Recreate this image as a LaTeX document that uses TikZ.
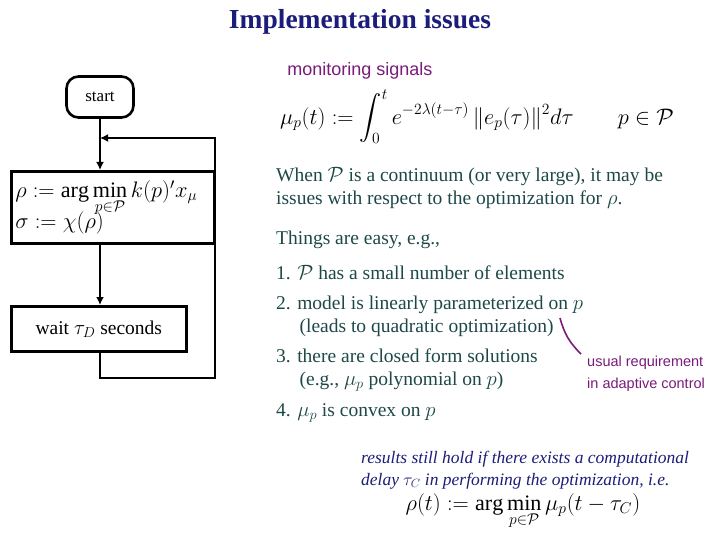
\documentclass[tikz,border=0pt]{standalone}
\usepackage{amsmath}
\usepackage{amssymb}
\usepackage{graphicx}
\usepackage{fontspec}
\setmainfont{Liberation Serif}
\newfontfamily\sansf{Liberation Sans}
\usetikzlibrary{arrows.meta}
\definecolor{titleblue}{HTML}{1C1C7A}
\definecolor{bodyteal}{HTML}{1E4848}
\definecolor{notepurple}{HTML}{7A1A7A}
\tikzset{
  box/.style={draw, line width=2.6pt, inner sep=4pt},
  flow/.style={line width=2.6pt, -{Latex[length=8pt,width=8pt]}},
  txt/.style={anchor=west, inner sep=0pt, text=bodyteal, font=\fontsize{19.5}{23}\selectfont},
}
\begin{document}
\begin{tikzpicture}[x=1pt,y=-1pt, font=\fontsize{17}{20}\selectfont]
    \useasboundingbox (0,0) rectangle (720,540);
    \node[text=titleblue, font=\bfseries\fontsize{27.5}{30}\selectfont] (title) at (360,22) {Implementation issues};
    \node[text=notepurple, font=\sansf\fontsize{18}{20}\selectfont] (mon) at (360,71) {monitoring signals};
    \node (mu) at (477,117) {\scalebox{1.3}{$\displaystyle \mu_p(t) := \int_0^t e^{-2\lambda(t-\tau)}\,\|e_p(\tau)\|^2 d\tau \qquad p\in\mathcal{P}$}};

    % flowchart
    \node[box, rounded corners=12pt, minimum width=67pt, minimum height=41pt] (start) at (100,97) {start};
    \node[box, anchor=north west, text width=195pt, minimum height=72pt, align=left] (opt) at (10,170)
        {\scalebox{1.3}{$\rho := \arg\min\limits_{p\in\mathcal{P}} k(p)' x_\mu$}\\[-6pt] \scalebox{1.3}{$\sigma := \chi(\rho)$}};
    \node[box, anchor=north west, minimum width=175pt, minimum height=45pt, font=\fontsize{19.5}{22}\selectfont] (wait) at (10,305) {wait $\tau_D$ seconds};
    \coordinate (loopa) at (100,378);
    \coordinate (loopb) at (215,378);
    \coordinate (loopc) at (215,138);
    \coordinate (loopd) at (100,138);
    \draw[flow] (start.south) -- (start.south |- opt.north);
    \draw[flow] (opt.south -| loopa) -- (wait.north -| loopa);
    \draw[flow] (wait.south -| loopa) -- (loopa) -- (loopb) -- (loopc) -- (loopd);

    % text
    \node[txt, align=left] (when) at (276,188) {When $\mathcal{P}$ is a continuum (or very large), it may be\\issues with respect to the optimization for $\rho$.};
    \node[txt] (easy) at (276,240) {Things are easy, e.g.,};
    \node[txt] (i1) at (276,273) {1. $\mathcal{P}$ has a small number of elements};
    \node[txt, align=left] (i2) at (276,316) {2. model is linearly parameterized on $p$\\\hspace*{1.2em}(leads to quadratic optimization)};
    \node[txt, align=left] (i3) at (276,370) {3. there are closed form solutions\\\hspace*{1.2em}(e.g., $\mu_p$ polynomial  on $p$)};
    \node[txt] (i4) at (276,413) {4. $\mu_p$ is convex on $p$};
    \node[anchor=west, text=notepurple, align=left, inner sep=0pt, font=\sansf\fontsize{14.5}{22}\selectfont] (note) at (587,374) {usual requirement\\in adaptive control};
    \coordinate (tick) at (560,318);
    \draw[notepurple, line width=1.6pt] (tick) to[bend right=15] (581,354);
    \node[anchor=west, text=titleblue, align=left, inner sep=0pt, font=\itshape\fontsize{17.5}{22}\selectfont] (delay) at (361,470)
        {results still hold if there exists a computational\\delay $\tau_C$ in performing the optimization, i.e.};
    \node (argm) at (523,512) {\scalebox{1.3}{$\rho(t) := \arg\min\limits_{p\in\mathcal{P}} \mu_p(t-\tau_C)$}};
\end{tikzpicture}
\end{document}
